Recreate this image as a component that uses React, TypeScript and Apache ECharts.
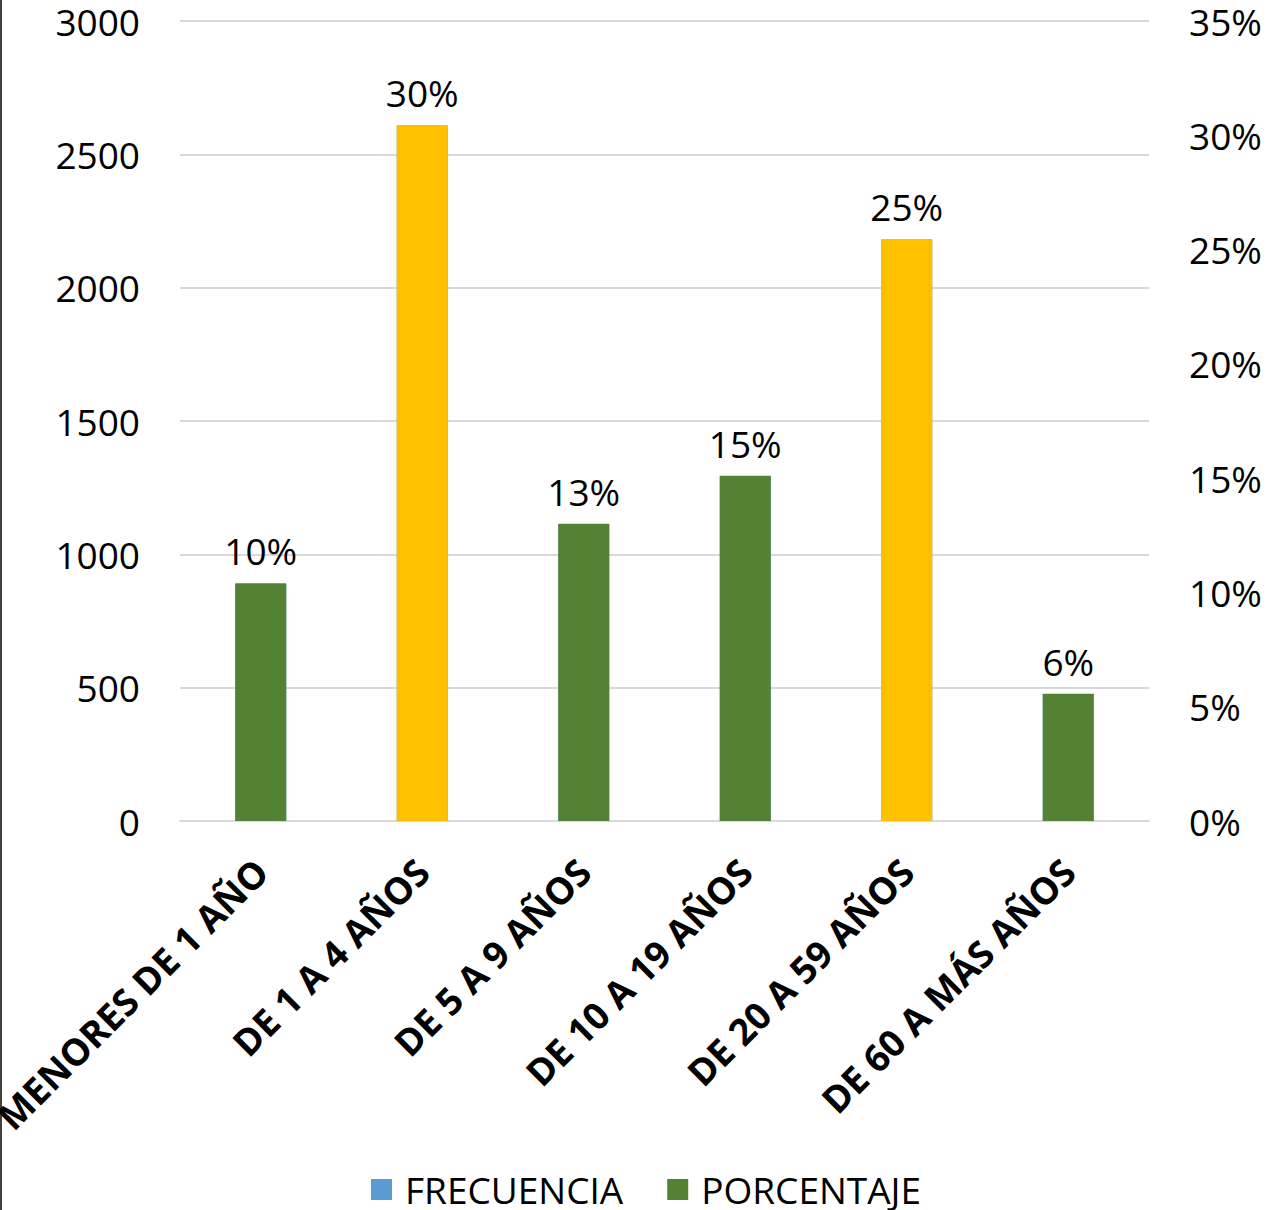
import React, { useEffect, useRef } from "react";
import * as echarts from "echarts";

const categories = [
  "MENORES DE 1 AÑO",
  "DE 1 A 4 AÑOS",
  "DE 5 A 9 AÑOS",
  "DE 10 A 19 AÑOS",
  "DE 20 A 59 AÑOS",
  "DE 60 A MÁS AÑOS",
];
const frecuencia = [889, 2605, 1110, 1290, 2180, 476];
const porcentaje = [0.104, 0.3045, 0.13, 0.151, 0.2546, 0.0557];
const highlighted = ["DE 1 A 4 AÑOS", "DE 20 A 59 AÑOS"];
const leftTicks = { min: 0, max: 3000, interval: 500 };
const rightTicks = { min: 0, max: 0.35, interval: 0.05 };

const FONT = "'Open Sans', 'Noto Sans', sans-serif";

export default function App() {
  const ref = useRef<HTMLDivElement>(null);
  useEffect(() => {
    document.body.style.margin = "0";
    const chart = echarts.init(ref.current!, null, { renderer: "svg" });
    chart.setOption({
      animation: false,
      backgroundColor: "#ffffff",
      grid: {
        left: 180,
        right: 118,
        top: 21,
        bottom: 389,
        containLabel: false,
        outerBoundsMode: "none",
      },
      legend: {
        data: ["FRECUENCIA", "PORCENTAJE"],
        left: 366,
        top: 1166,
        itemWidth: 21,
        itemHeight: 21,
        itemGap: 44,
        icon: "rect",
        textStyle: { fontFamily: FONT, fontSize: 37, color: "#000", padding: [0, 0, 0, 8] },
      },
      graphic: [
        { type: "rect", left: 0, top: 0, shape: { width: 2, height: 1210 }, style: { fill: "#404040" } },
      ],
      xAxis: {
        type: "category",
        data: categories,
        axisLine: { lineStyle: { color: "#D9D9D9", width: 2 } },
        axisTick: { show: false },
        axisLabel: {
          rotate: 45,
          interval: 0,
          margin: 44,
          fontFamily: FONT,
          fontSize: 37,
          fontWeight: "bold",
          color: "#000",
        },
      },
      yAxis: [
        {
          type: "value",
          ...leftTicks,
          axisLine: { show: false },
          axisTick: { show: false },
          splitLine: { lineStyle: { color: "#D9D9D9", width: 2 } },
          axisLabel: {
            margin: 40,
            fontFamily: FONT,
            fontSize: 37,
            color: "#000",
            formatter: (v: number) => String(v),
          },
        },
        {
          type: "value",
          ...rightTicks,
          axisLine: { show: false },
          axisTick: { show: false },
          splitLine: { show: false },
          axisLabel: {
            margin: 40,
            fontFamily: FONT,
            fontSize: 37,
            color: "#000",
            formatter: (v: number) => Math.round(v * 100) + "%",
          },
        },
      ],
      series: [
        {
          name: "FRECUENCIA",
          type: "bar",
          yAxisIndex: 0,
          data: frecuencia,
          barWidth: 51,
          itemStyle: { color: "#5B9BD5" },
        },
        {
          name: "PORCENTAJE",
          type: "bar",
          yAxisIndex: 1,
          barWidth: 51,
          barGap: "-100%",
          itemStyle: { color: "#548235" },
          data: porcentaje.map((v, i) => ({
            value: v,
            itemStyle: highlighted.includes(categories[i]) ? { color: "#FFC000" } : undefined,
          })),
          label: {
            show: true,
            position: "top",
            distance: 14,
            fontFamily: FONT,
            fontSize: 37,
            color: "#000",
            formatter: (p: any) => Math.round(p.value * 100) + "%",
          },
        },
      ],
    });
    return () => chart.dispose();
  }, []);
  return <div ref={ref} style={{ width: 1267, height: 1210, position: "absolute", left: 0, top: 0 }} />;
}
